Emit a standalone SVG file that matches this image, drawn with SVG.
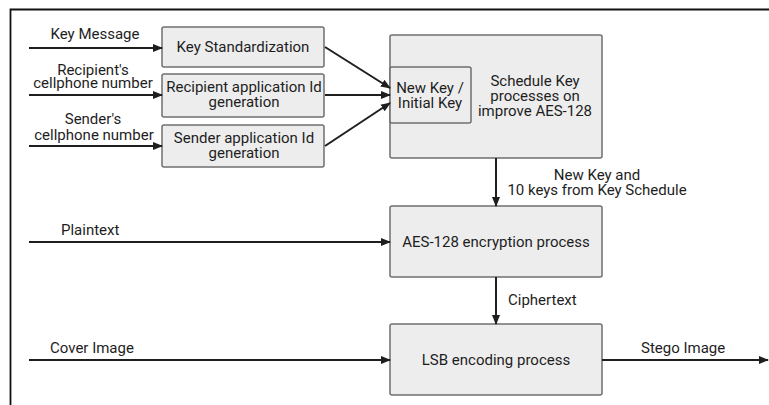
<svg xmlns="http://www.w3.org/2000/svg" width="769" height="405" viewBox="0 0 769 405">
<style>
.box{fill:#ededed;stroke:#6f6f6f;stroke-width:1.5}
.t{font-family:Roboto,"Liberation Sans",sans-serif;font-size:15px;fill:#1e1e1e;text-anchor:middle}
.l{font-family:Roboto,"Liberation Sans",sans-serif;font-size:15px;fill:#1e1e1e}
.c{stroke:#1e1e1e;stroke-width:2;fill:none;marker-end:url(#ah)}
.frame{stroke:#111;stroke-width:1.8;fill:none}
</style>
<defs>
<marker id="ah" markerWidth="10" markerHeight="8" refX="9" refY="4" orient="auto" markerUnits="userSpaceOnUse">
<path d="M0,0 L10,4 L0,8 Z" fill="#1e1e1e"/>
</marker>
</defs>
<rect width="769" height="405" fill="#ffffff"/>
<path class="frame" d="M10.5,405 V9.5 H769"/>
<g id="key-std">
<rect class="box" x="162" y="27" width="162" height="40" rx="2"/>
<text class="t" x="243" y="52">Key Standardization</text>
</g>
<g id="recipient-id">
<rect class="box" x="162" y="74" width="162" height="43" rx="2"/>
<text class="t" x="244" y="92">Recipient application Id</text>
<text class="t" x="244" y="107">generation</text>
</g>
<g id="sender-id">
<rect class="box" x="162" y="125" width="162" height="42" rx="2"/>
<text class="t" x="244" y="143">Sender application Id</text>
<text class="t" x="244" y="158">generation</text>
</g>
<g id="schedule">
<rect class="box" x="390" y="35" width="212" height="123" rx="2"/>
<text class="t" x="535" y="86">Schedule Key</text>
<text class="t" x="535" y="101">processes on</text>
<text class="t" x="535" y="116">improve AES-128</text>
</g>
<g id="new-key">
<rect class="box" x="390" y="67" width="81" height="56" rx="2"/>
<text class="t" x="430" y="93">New Key /</text>
<text class="t" x="430" y="108">Initial Key</text>
</g>
<g id="aes">
<rect class="box" x="390" y="206" width="212" height="71" rx="2"/>
<text class="t" x="496" y="247">AES-128 encryption process</text>
</g>
<g id="lsb">
<rect class="box" x="390" y="324" width="212" height="71" rx="2"/>
<text class="t" x="496" y="365">LSB encoding process</text>
</g>
<g id="connectors">
<line class="c" x1="29" y1="48" x2="162" y2="48"/>
<line class="c" x1="29" y1="95" x2="162" y2="95"/>
<line class="c" x1="29" y1="146" x2="162" y2="146"/>
<line class="c" x1="325" y1="47" x2="390" y2="88"/>
<line class="c" x1="325" y1="95" x2="390" y2="95"/>
<line class="c" x1="325" y1="146" x2="390" y2="103"/>
<line class="c" x1="496" y1="158" x2="496" y2="206"/>
<line class="c" x1="29" y1="242" x2="390" y2="242"/>
<line class="c" x1="496" y1="277" x2="496" y2="324"/>
<line class="c" x1="29" y1="360" x2="390" y2="360"/>
<line class="c" x1="602" y1="360" x2="768" y2="360"/>
</g>
<g id="labels">
<text class="t" x="95" y="39">Key Message</text>
<text class="t" x="93" y="75">Recipient's</text>
<text class="t" x="93" y="88">cellphone number</text>
<text class="t" x="93" y="124">Sender's</text>
<text class="t" x="94" y="140">cellphone number</text>
<text class="t" x="597" y="180">New Key and</text>
<text class="t" x="597" y="195">10 keys from Key Schedule</text>
<text class="l" x="61" y="235">Plaintext</text>
<text class="l" x="508" y="305">Ciphertext</text>
<text class="l" x="50" y="353">Cover Image</text>
<text class="l" x="641" y="353">Stego Image</text>
</g>
</svg>
